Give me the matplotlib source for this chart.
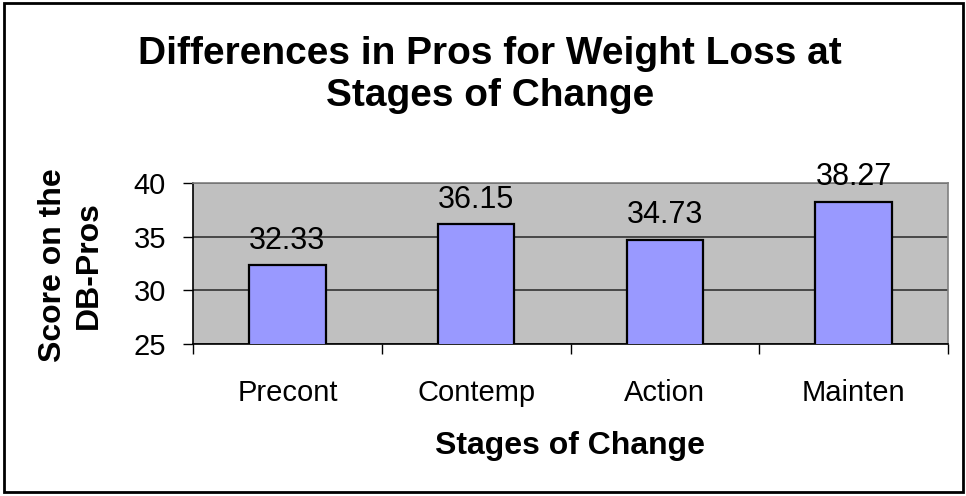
import matplotlib
matplotlib.use("Agg")
import matplotlib.pyplot as plt
from matplotlib.patches import Rectangle

categories = ["Precont", "Contemp", "Action", "Mainten"]
values = [32.33, 36.15, 34.73, 38.27]
yticks = [25, 30, 35, 40]

plt.rcParams['font.family'] = ['Liberation Sans', 'DejaVu Sans']

W, H = 966, 496
fig = plt.figure(figsize=(W/100, H/100), dpi=100)
fig.patch.set_facecolor("white")

# outer frame
fig.patches.append(Rectangle((4/W, 4/H), (963-4)/W, (493-4)/H, transform=fig.transFigure,
                             fill=False, edgecolor="black", linewidth=2))

x0, x1, y0, y1 = 193, 948, 183, 344
ax = fig.add_axes([x0/W, 1 - y1/H, (x1-x0)/W, (y1-y0)/H])
ax.set_facecolor("#C0C0C0")

xs = list(range(len(categories)))
ax.bar(xs, values, width=0.405, bottom=0, color="#9999FF", edgecolor="black",
       linewidth=1.6, zorder=3)
for x, v in zip(xs, values):
    ax.text(x, v + 1.55, f"{v:.2f}", ha="center", va="baseline", fontsize=22,
            zorder=4, clip_on=False)

ax.set_ylim(25, 40)
ax.set_xlim(-0.5, len(categories) - 0.5)
ax.set_yticks(yticks)
ax.set_yticklabels([str(t) for t in yticks], fontsize=21)
ax.yaxis.grid(True, color="#333333", linewidth=1.2, zorder=1)
ax.set_axisbelow(True)
ax.tick_params(axis="y", length=7.5, width=1, direction="out", pad=12)

ax.set_xticks(xs)
ax.set_xticklabels(categories, fontsize=21)
ax.tick_params(axis="x", length=0, pad=25)
ax.set_xticks([i - 0.5 for i in range(len(categories) + 1)], minor=True)
ax.tick_params(axis="x", which="minor", length=7.5, width=1, direction="out")

for s in ["top", "right"]:
    ax.spines[s].set_color("#808080")
    ax.spines[s].set_linewidth(1.2)
for s in ["left", "bottom"]:
    ax.spines[s].set_color("black")
    ax.spines[s].set_linewidth(1.2)

fig.text(490/W, 1 - 75/H, "Differences in Pros for Weight Loss at\nStages of Change",
         ha="center", va="center", fontsize=28, fontweight="bold", linespacing=1.2)
fig.text(71/W, 1 - 265/H, "Score on the\nDB-Pros", ha="center", va="center",
         rotation=90, fontsize=23, fontweight="bold", linespacing=1.22)
fig.text(570/W, 1 - 446/H, "Stages of Change", ha="center", va="center",
         fontsize=23, fontweight="bold")

fig.savefig("out.png", dpi=100, facecolor="white")
